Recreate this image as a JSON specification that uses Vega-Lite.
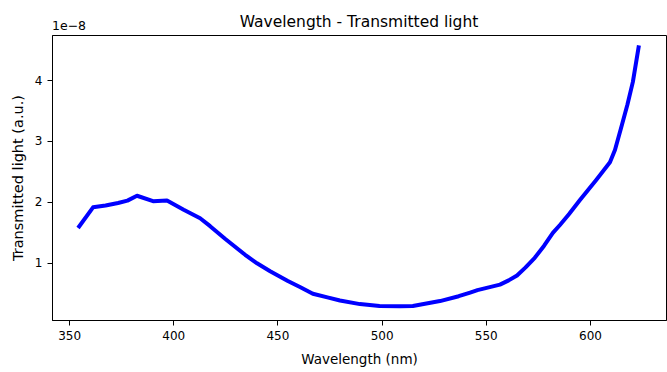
{
  "$schema": "https://vega.github.io/schema/vega-lite/v6.json",
  "width": 614,
  "height": 285,
  "autosize": {"type": "none"},
  "padding": {"left": 52, "top": 35, "right": 1, "bottom": 52},
  "background": "white",
  "config": {
    "font": "DejaVu Sans",
    "view": {"stroke": "black", "strokeWidth": 1},
    "axis": {"grid": false, "domainColor": "black", "tickColor": "black", "labelColor": "black", "titleColor": "black", "labelFontSize": 12, "titleFontSize": 13.5, "titleFontWeight": "normal", "tickSize": 5, "labelPadding": 5}
  },
  "title": {"text": "Wavelength - Transmitted light", "fontSize": 15.5, "fontWeight": "normal", "color": "black", "offset": -10, "anchor": "middle"},
  "data": {"values": [
    {"wavelength": 354.3, "transmitted": 1.57e-8},
    {"wavelength": 361.5, "transmitted": 1.91e-8},
    {"wavelength": 367.5, "transmitted": 1.94e-8},
    {"wavelength": 373.5, "transmitted": 1.98e-8},
    {"wavelength": 378.0, "transmitted": 2.02e-8},
    {"wavelength": 382.6, "transmitted": 2.10e-8},
    {"wavelength": 390.3, "transmitted": 2.01e-8},
    {"wavelength": 397.0, "transmitted": 2.02e-8},
    {"wavelength": 405.0, "transmitted": 1.87e-8},
    {"wavelength": 412.9, "transmitted": 1.73e-8},
    {"wavelength": 417.7, "transmitted": 1.60e-8},
    {"wavelength": 425.0, "transmitted": 1.39e-8},
    {"wavelength": 434.5, "transmitted": 1.13e-8},
    {"wavelength": 440.2, "transmitted": 0.99e-8},
    {"wavelength": 446.5, "transmitted": 0.86e-8},
    {"wavelength": 455.0, "transmitted": 0.70e-8},
    {"wavelength": 460.8, "transmitted": 0.60e-8},
    {"wavelength": 467.0, "transmitted": 0.49e-8},
    {"wavelength": 474.0, "transmitted": 0.43e-8},
    {"wavelength": 480.0, "transmitted": 0.38e-8},
    {"wavelength": 489.6, "transmitted": 0.32e-8},
    {"wavelength": 499.0, "transmitted": 0.29e-8},
    {"wavelength": 508.8, "transmitted": 0.285e-8},
    {"wavelength": 515.0, "transmitted": 0.29e-8},
    {"wavelength": 528.0, "transmitted": 0.37e-8},
    {"wavelength": 537.0, "transmitted": 0.45e-8},
    {"wavelength": 542.5, "transmitted": 0.51e-8},
    {"wavelength": 546.0, "transmitted": 0.55e-8},
    {"wavelength": 556.8, "transmitted": 0.64e-8},
    {"wavelength": 561.0, "transmitted": 0.71e-8},
    {"wavelength": 565.0, "transmitted": 0.79e-8},
    {"wavelength": 569.0, "transmitted": 0.92e-8},
    {"wavelength": 573.5, "transmitted": 1.08e-8},
    {"wavelength": 578.0, "transmitted": 1.28e-8},
    {"wavelength": 582.2, "transmitted": 1.49e-8},
    {"wavelength": 585.6, "transmitted": 1.62e-8},
    {"wavelength": 590.0, "transmitted": 1.80e-8},
    {"wavelength": 595.2, "transmitted": 2.03e-8},
    {"wavelength": 603.0, "transmitted": 2.36e-8},
    {"wavelength": 609.6, "transmitted": 2.65e-8},
    {"wavelength": 612.0, "transmitted": 2.85e-8},
    {"wavelength": 615.0, "transmitted": 3.22e-8},
    {"wavelength": 618.0, "transmitted": 3.60e-8},
    {"wavelength": 620.6, "transmitted": 3.97e-8},
    {"wavelength": 623.5, "transmitted": 4.57e-8}
  ]},
  "layer": [
    {
      "mark": {"type": "line", "color": "#0000ff", "strokeWidth": 4, "strokeJoin": "round", "strokeCap": "butt", "interpolate": "linear"},
      "encoding": {
        "x": {"field": "wavelength", "type": "quantitative", "scale": {"domain": [341.8, 636.5], "nice": false, "zero": false}, "axis": {"title": "Wavelength (nm)", "values": [350, 400, 450, 500, 550, 600], "titlePadding": 11}},
        "y": {"field": "transmitted", "type": "quantitative", "scale": {"domain": [0.059e-8, 4.74e-8], "nice": false, "zero": false}, "axis": {"title": "Transmitted light (a.u.)", "titleFontSize": 14.5, "values": [1e-8, 2e-8, 3e-8, 4e-8], "labelExpr": "format(datum.value * 1e8, 'd')", "titlePadding": 9}}
      }
    },
    {
      "data": {"values": [{"label": "1e\u22128", "x": 341.8, "y": 4.74e-8}]},
      "mark": {"type": "text", "align": "left", "baseline": "bottom", "dy": -2, "fontSize": 12.5, "color": "black"},
      "encoding": {
        "x": {"field": "x", "type": "quantitative"},
        "y": {"field": "y", "type": "quantitative"},
        "text": {"field": "label"}
      }
    }
  ]
}
